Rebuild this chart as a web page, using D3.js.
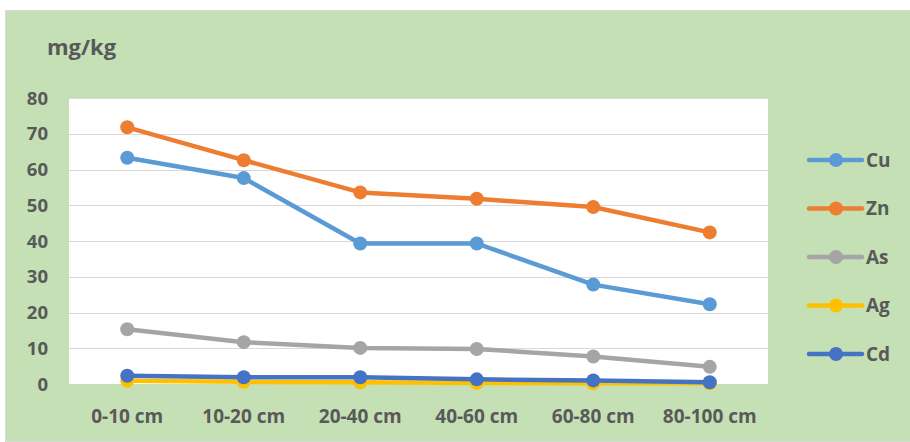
<!DOCTYPE html>
<html>
<head>
<meta charset="utf-8">
<script src="https://cdn.jsdelivr.net/npm/d3@7"></script>
<style>
  body { margin: 0; background: #fff; }
  svg { display: block; }
  text { font-family: "Open Sans", "Liberation Sans", sans-serif; font-weight: bold; fill: #595959; }
</style>
</head>
<body>
<svg id="chart"></svg>
<script>
const categories = ['0-10 cm', '10-20 cm', '20-40 cm', '40-60 cm', '60-80 cm', '80-100 cm'];
const seriesNames = ['Cu', 'Zn', 'As', 'Ag', 'Cd'];
const cuValues = [63.3, 57.6, 39.3, 39.3, 27.8, 22.3];
const znValues = [71.8, 62.6, 53.6, 51.8, 49.5, 42.4];
const asValues = [15.3, 11.7, 10.1, 9.8, 7.7, 4.8];
const agValues = [0.9, 0.6, 0.5, 0.3, 0.2, 0.2];
const cdValues = [2.3, 1.9, 1.9, 1.3, 1.0, 0.5];
const yTicks = [0, 10, 20, 30, 40, 50, 60, 70, 80];
const colors = { Cu: '#5b9bd5', Zn: '#ed7d31', As: '#a5a5a5', Ag: '#ffc000', Cd: '#4472c4' };

const series = [
  { name: 'Cu', values: cuValues },
  { name: 'Zn', values: znValues },
  { name: 'As', values: asValues },
  { name: 'Ag', values: agValues },
  { name: 'Cd', values: cdValues }
];

const width = 910, height = 442;
const plot = { left: 69, top: 98, right: 768, bottom: 384 };

const svg = d3.select('#chart').attr('width', width).attr('height', height);

// Outer chart background
svg.append('rect')
  .attr('x', 5.5).attr('y', 10.5)
  .attr('width', width - 5).attr('height', height - 11)
  .attr('fill', '#c5e0b4')
  .attr('stroke', '#d9d9d9');

// Plot area
svg.append('rect')
  .attr('x', plot.left).attr('y', plot.top)
  .attr('width', plot.right - plot.left).attr('height', plot.bottom - plot.top)
  .attr('fill', '#fff');

const x = d3.scaleBand().domain(categories).range([plot.left, plot.right]);
const y = d3.scaleLinear().domain([0, 80]).range([plot.bottom, plot.top]);
const cx = d => x(d) + x.bandwidth() / 2;

// Gridlines
svg.append('g')
  .selectAll('line')
  .data(yTicks.filter(t => t > 0))
  .enter().append('line')
  .attr('x1', plot.left).attr('x2', plot.right)
  .attr('y1', d => Math.round(y(d)) + 0.5).attr('y2', d => Math.round(y(d)) + 0.5)
  .attr('stroke', '#d9d9d9')
  .attr('stroke-width', 1);

// Y tick labels
svg.append('g')
  .selectAll('text')
  .data(yTicks)
  .enter().append('text')
  .attr('x', 48)
  .attr('y', d => y(d))
  .attr('dy', '0.36em')
  .attr('text-anchor', 'end')
  .attr('font-size', '18.5px')
  .text(d => d);

// X labels
svg.append('g')
  .selectAll('text')
  .data(categories)
  .enter().append('text')
  .attr('x', d => cx(d))
  .attr('y', 423)
  .attr('text-anchor', 'middle')
  .attr('font-size', '19px')
  .text(d => d);

// Unit label
svg.append('text')
  .attr('x', 47).attr('y', 55)
  .attr('font-size', '22px')
  .text('mg/kg');

// Lines + markers
const line = d3.line()
  .x((d, i) => cx(categories[i]))
  .y(d => y(d));

const groups = svg.append('g')
  .selectAll('g')
  .data(series)
  .enter().append('g');

groups.append('path')
  .attr('d', d => line(d.values))
  .attr('fill', 'none')
  .attr('stroke', d => colors[d.name])
  .attr('stroke-width', 4.5)
  .attr('stroke-linejoin', 'round')
  .attr('stroke-linecap', 'round');

groups.selectAll('circle')
  .data(d => d.values.map((v, i) => ({ v, i, name: d.name })))
  .enter().append('circle')
  .attr('cx', d => cx(categories[d.i]))
  .attr('cy', d => y(d.v))
  .attr('r', 7)
  .attr('fill', d => colors[d.name]);

// Legend
const legend = svg.append('g')
  .selectAll('g')
  .data(seriesNames)
  .enter().append('g')
  .attr('transform', (d, i) => `translate(0,${160 + i * 48.5})`);

legend.append('line')
  .attr('x1', 809).attr('x2', 862)
  .attr('stroke', d => colors[d])
  .attr('stroke-width', 4.5)
  .attr('stroke-linecap', 'round');

legend.append('circle')
  .attr('cx', 836).attr('r', 7)
  .attr('fill', d => colors[d]);

legend.append('text')
  .attr('x', 866)
  .attr('dy', '0.36em')
  .attr('font-size', '19px')
  .text(d => d);
</script>
</body>
</html>
